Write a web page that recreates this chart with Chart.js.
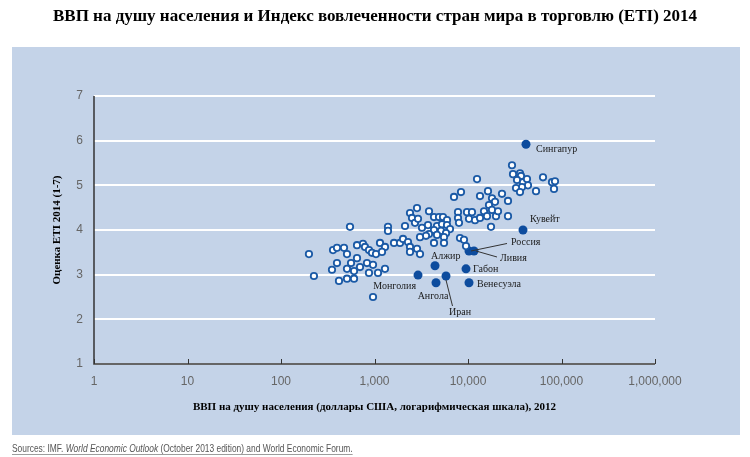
<!DOCTYPE html>
<html>
<head>
<meta charset="utf-8">
<script src="https://cdn.jsdelivr.net/npm/chart.js@4.4.1/dist/chart.umd.min.js"></script>
<style>
html,body{margin:0;padding:0;background:#fff;}
#wrap{width:750px;height:457px;position:relative;}
</style>
</head>
<body>
<div id="wrap"><canvas id="c" width="750" height="457"></canvas></div>
<script>
// ---------------- DATA ----------------
const titleText = 'ВВП на душу населения и Индекс вовлеченности стран мира в торговлю (ETI) 2014';
const xAxisTitle = 'ВВП на душу населения (доллары США, логарифмическая шкала), 2012';
const yAxisTitle = 'Оценка ETI 2014 (1-7)';
const xTickValues = [1, 10, 100, 1000, 10000, 100000, 1000000];
const yTickValues = [1, 2, 3, 4, 5, 6, 7];

// unlabelled countries: GDP per capita (USD, 2012) and ETI score
const otherGdp = [
  199, 225, 360, 397, 472, 508, 397, 351, 508, 561, 650, 700, 604, 417, 508, 604, 547, 650,
  753, 791, 873, 940, 1037, 831, 964, 873, 1090, 1295, 964, 1145, 1295, 1203, 1394, 1394,
  1617, 1874, 2018, 2282, 2397, 2849, 2397, 3067, 2120, 2397, 2518, 2849, 3828, 2712, 2920,
  3221, 3735, 4329, 4896, 5403, 5963, 4661, 5272, 5963, 6420, 4329, 5142, 5819, 3828, 4661,
  5537, 3555, 3067, 4329, 5537,
  7085, 8417, 7817, 7817, 8010, 9757, 10250, 11030, 11880, 13440, 13440, 12490, 14830, 15970,
  16360, 16770, 18060, 18060, 19450, 19930, 20940, 23100, 26780, 26780, 17620, 8210, 9061, 9520,
  29550, 30290, 35980, 36880, 33430, 38740, 42760, 43820, 37800, 32620, 35980, 53380, 63400,
  79140, 85200, 83130
];
const otherEti = [
  3.46, 2.97, 3.55, 3.60, 3.60, 3.46, 3.26, 3.11, 3.13, 3.26, 3.37, 3.17, 3.08, 2.86, 2.91, 2.91, 4.07, 3.66,
  3.69, 3.62, 3.55, 3.49, 3.46, 3.26, 3.22, 3.04, 3.04, 3.13, 2.50, 3.71, 3.62, 3.51, 4.07, 3.98,
  3.71, 3.71, 3.80, 3.73, 3.62, 3.58, 3.51, 3.46, 4.09, 4.38, 4.27, 4.49, 4.42, 4.16, 4.25,
  4.05, 4.11, 4.29, 4.29, 4.29, 4.22, 4.09, 4.13, 4.11, 4.02, 4.00, 3.98, 3.93, 3.91, 3.89,
  3.84, 3.87, 3.84, 3.71, 3.71,
  4.74, 4.85, 4.40, 4.27, 4.16, 4.40, 4.25, 4.40, 4.22, 4.27, 4.76, 5.14, 4.42, 4.31,
  4.87, 4.56, 4.45, 4.71, 4.63, 4.31, 4.42, 4.81, 4.65, 4.31, 4.07, 3.82, 3.78, 3.64,
  5.45, 5.25, 5.27, 5.21, 5.12, 5.07, 5.14, 5.00, 4.96, 4.94, 4.85, 4.87, 5.18,
  5.07, 5.09, 4.92
];

// highlighted countries
const namedCountries = ['Сингапур', 'Кувейт', 'Россия', 'Ливия', 'Алжир', 'Габон', 'Монголия', 'Иран', 'Ангола', 'Венесуэла'];
const namedGdp = [41720, 38740, 10250, 11590, 4437, 9520, 2920, 5819, 4548, 10250];
const namedEti = [5.92, 4.00, 3.53, 3.53, 3.20, 3.13, 2.99, 2.97, 2.82, 2.82];

const sourceParts = [
  ['Sources: IMF. ', false],
  ['World Economic Outlook', true],
  [' (October 2013 edition) and World Economic Forum.', false]
];

// ---------------- STYLE ----------------
const PANEL = '#c4d3e8';
const OPEN_BORDER = '#1b5aa6';
const FILLED = '#0d4c9e';
const SERIF = '"Liberation Serif", "Times New Roman", serif';
const SANS_N = '"Liberation Sans Narrow", "Liberation Sans", Arial, sans-serif';

// label placement relative to the point (style only): dx, dy, align, optional leader end
const labelStyle = {
  'Сингапур':  {dx: 10, dy: 5,  align: 'left'},
  'Кувейт':    {dx: 7,  dy: -11, align: 'left'},
  'Россия':    {dx: 42, dy: -9, align: 'left', lead: [38, -7.5]},
  'Ливия':     {dx: 26, dy: 7,  align: 'left', lead: [23, 6]},
  'Алжир':     {dx: -4, dy: -9.5, align: 'left'},
  'Габон':     {dx: 7,  dy: 1,  align: 'left'},
  'Монголия':  {dx: -2, dy: 11, align: 'right'},
  'Иран':      {dx: 3,  dy: 36, align: 'left', lead: [6.5, 30], leadStart: [0, 4]},
  'Ангола':    {dx: -3, dy: 14, align: 'center'},
  'Венесуэла': {dx: 8,  dy: 2,  align: 'left'}
};

const decor = {
  id: 'decor',
  beforeDraw(chart) {
    const c = chart.ctx, a = chart.chartArea;
    c.save();
    c.fillStyle = '#ffffff';
    c.fillRect(0, 0, chart.width, chart.height);
    c.fillStyle = PANEL;
    c.fillRect(12, 47, 728, 388);
    // title
    c.fillStyle = '#000';
    c.font = 'bold 17px ' + SERIF;
    c.textAlign = 'center';
    c.textBaseline = 'middle';
    c.fillText(titleText, 375, 17);
    // axis titles
    c.font = 'bold 11px ' + SERIF;
    c.fillText(xAxisTitle, (a.left + a.right) / 2, a.bottom + 43);
    c.save();
    c.translate(a.left - 37, (a.top + a.bottom) / 2);
    c.rotate(-Math.PI / 2);
    c.fillText(yAxisTitle, 0, 0);
    c.restore();
    // source (condensed)
    c.save();
    c.translate(12, 452);
    c.scale(0.8, 1);
    c.textAlign = 'left';
    c.textBaseline = 'alphabetic';
    c.fillStyle = '#555';
    let x = 0;
    for (const [t, it] of sourceParts) {
      c.font = (it ? 'italic ' : '') + '10.5px ' + SANS_N;
      c.fillText(t, x, 0);
      x += c.measureText(t).width;
    }
    c.strokeStyle = '#777';
    c.lineWidth = 0.8;
    c.beginPath();
    c.moveTo(0, 2.5);
    c.lineTo(x, 2.5);
    c.stroke();
    c.restore();
    c.restore();
  },
  beforeDatasetsDraw(chart) {
    const c = chart.ctx, a = chart.chartArea, xs = chart.scales.x;
    c.save();
    c.strokeStyle = '#333';
    c.lineWidth = 1.5;
    c.beginPath();
    c.moveTo(a.left, a.top);
    c.lineTo(a.left, a.bottom);
    c.lineTo(a.right, a.bottom);
    c.stroke();
    c.lineWidth = 1;
    c.beginPath();
    for (const v of xTickValues) {
      const px = Math.round(xs.getPixelForValue(v)) + 0.5;
      c.moveTo(px, a.bottom);
      c.lineTo(px, a.bottom - 5);
    }
    c.stroke();
    c.restore();
  },
  afterDatasetsDraw(chart) {
    const c = chart.ctx, xs = chart.scales.x, ys = chart.scales.y;
    c.save();
    c.font = '10px ' + SERIF;
    c.fillStyle = '#1a1a1a';
    c.textBaseline = 'middle';
    c.strokeStyle = '#333';
    c.lineWidth = 1;
    namedCountries.forEach((name, i) => {
      const px = xs.getPixelForValue(namedGdp[i]);
      const py = ys.getPixelForValue(namedEti[i]);
      const s = labelStyle[name];
      if (s.lead) {
        const st = s.leadStart || [2, 0];
        c.beginPath();
        c.moveTo(px + st[0], py + st[1]);
        c.lineTo(px + s.lead[0], py + s.lead[1]);
        c.stroke();
      }
      c.textAlign = s.align;
      c.fillText(name, px + s.dx, py + s.dy);
    });
    c.restore();
  }
};

new Chart(document.getElementById('c'), {
  type: 'scatter',
  data: {
    datasets: [
      {
        data: otherGdp.map((g, i) => ({x: g, y: otherEti[i]})),
        pointRadius: 3.2,
        pointBorderWidth: 1.8,
        pointBackgroundColor: '#ffffff',
        pointBorderColor: OPEN_BORDER
      },
      {
        data: namedGdp.map((g, i) => ({x: g, y: namedEti[i]})),
        pointRadius: 4.5,
        pointBorderWidth: 0,
        pointBackgroundColor: FILLED,
        pointBorderColor: FILLED
      }
    ]
  },
  options: {
    responsive: false,
    animation: false,
    devicePixelRatio: 1,
    layout: {padding: {left: 0, right: 95, top: 96, bottom: 63}},
    plugins: {legend: {display: false}, tooltip: {enabled: false}, title: {display: false}},
    scales: {
      x: {
        type: 'logarithmic',
        min: 1, max: 1000000,
        afterBuildTicks: s => { s.ticks = xTickValues.map(v => ({value: v})); },
        afterFit: s => { s.height = 30; },
        grid: {display: false, drawTicks: false},
        border: {display: false},
        ticks: {
          autoSkip: false, maxRotation: 0, padding: 10,
          color: '#666',
          font: {family: SANS_N, size: 12},
          callback: v => Number(v).toLocaleString('en-US')
        }
      },
      y: {
        min: 1, max: 7,
        afterBuildTicks: s => { s.ticks = yTickValues.map(v => ({value: v})); },
        afterFit: s => { s.width = 94; },
        grid: {color: '#ffffff', lineWidth: 2, drawTicks: false},
        border: {display: false},
        ticks: {
          padding: 11,
          color: '#666',
          font: {family: SANS_N, size: 12}
        }
      }
    }
  },
  plugins: [decor]
});
</script>
</body>
</html>
